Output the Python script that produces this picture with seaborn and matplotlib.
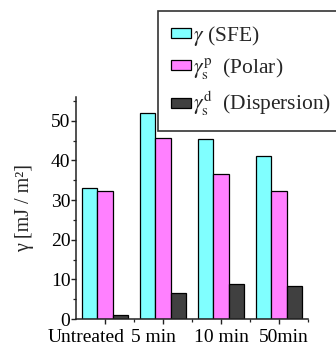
import matplotlib
matplotlib.use("Agg")
import matplotlib.pyplot as plt
import matplotlib.transforms as mtransforms
from matplotlib.ticker import MultipleLocator, FixedLocator
import seaborn as sns
import pandas as pd

# ---- data ----
treatments = ["Untreated", "5 min", "10 min", "50min"]
components = [r"$\gamma$ (SFE)",
              r"$\gamma_{\mathrm{s}}^{\mathrm{p}}$  (Polar)",
              r"$\gamma_{\mathrm{s}}^{\mathrm{d}}$  (Dispersion)"]
sfe = [33.1, 51.9, 45.4, 41.0]
polar = [32.3, 45.6, 36.6, 32.3]
dispersion = [1.0, 6.6, 8.9, 8.4]
colors = ["#80FFFF", "#FF80FF", "#404040"]

rows = []
for comp, vals in zip(components, [sfe, polar, dispersion]):
    for t, v in zip(treatments, vals):
        rows.append({"treatment": t, "component": comp, "value": v})
df = pd.DataFrame(rows)

sns.set_style("ticks")
plt.rcParams["font.family"] = ["Liberation Serif", "DejaVu Serif"]
plt.rcParams["mathtext.fontset"] = "stix"

fig = plt.figure(figsize=(3.36, 3.51), dpi=100)
ax = fig.add_axes([76 / 336, 1 - 319 / 351, 232 / 336, 222 / 351])

sns.barplot(data=df, x="treatment", y="value", hue="component",
            order=treatments, hue_order=components, palette=colors,
            saturation=1, edgecolor="black", linewidth=0.9, width=0.8, ax=ax)

handles, labels = ax.get_legend_handles_labels()
if ax.get_legend() is not None:
    ax.get_legend().remove()

ax.set_xlim(-0.5, 3.5)
ax.set_ylim(0, 56)
ax.yaxis.set_major_locator(MultipleLocator(10))
ax.yaxis.set_minor_locator(MultipleLocator(5))
ax.xaxis.set_minor_locator(FixedLocator([0.5, 1.5, 2.5, 3.5]))
ax.set_xlabel("")
ax.set_ylabel("γ [mJ / m²]", fontsize=14.5, labelpad=12)

for s in ["top", "right"]:
    ax.spines[s].set_visible(False)
for s in ["left", "bottom"]:
    ax.spines[s].set_linewidth(1.1)
    ax.spines[s].set_color("#222222")

ax.tick_params(axis="both", which="major", direction="out", length=3.5,
               width=1.0, labelsize=14, colors="#222222", labelcolor="black")
ax.tick_params(axis="y", which="major", pad=0.5)
ax.tick_params(axis="x", which="major", pad=3.5)
ax.tick_params(axis="both", which="minor", direction="out", length=2,
               width=0.9, colors="#222222")

# shift x tick labels as in the original layout
offsets_px = [-18.5, -9.5, 0, 4.5]
for lab, dx in zip(ax.get_xticklabels(), offsets_px):
    lab.set_transform(lab.get_transform() +
                      mtransforms.ScaledTranslation(dx / 100, 0, fig.dpi_scale_trans))

leg = fig.legend(handles, labels, loc="upper left",
                 bbox_to_anchor=(158 / 336, 1 - 11 / 351),
                 bbox_transform=fig.transFigure, borderaxespad=0,
                 fontsize=15.5, frameon=True, fancybox=False,
                 handlelength=0.92, handleheight=0.33, handletextpad=0.1,
                 labelspacing=0.38, borderpad=0.6)
leg.get_frame().set_edgecolor("#333333")
leg.get_frame().set_linewidth(1.2)
leg.get_frame().set_facecolor("white")
leg.get_frame().set_alpha(1)

fig.savefig("out.png", dpi=100)
